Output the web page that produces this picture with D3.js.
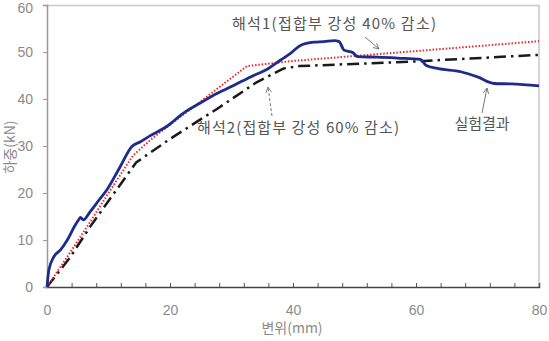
<!DOCTYPE html>
<html>
<head>
<meta charset="utf-8">
<script src="https://cdn.jsdelivr.net/npm/d3@7"></script>
<style>
  body { margin: 0; background: #fff; }
  text { font-family: "Noto Sans CJK KR", "Noto Sans", sans-serif; }
</style>
</head>
<body>
<div id="chart"></div>
<script>
// 실험결과 (blue)
var expX = [0, 0.3, 1.1, 2.2, 3.3, 4.6, 5.15, 5.45, 5.9, 7.0, 8.4, 9.8, 11.9, 13.8, 15.2, 16.8, 19.5, 22.2, 25, 27.7, 30.5, 33.1, 36, 38, 39.6, 41.2, 43.4, 45, 46.7, 47.5, 48.3, 49.7, 50.5, 53.7, 57, 60.8, 61.6, 63.5, 67.3, 70, 72.7, 75.5, 80];
var expY = [0, 3.6, 6.4, 7.9, 10, 13.2, 14.3, 14.8, 14.3, 16.0, 18.4, 20.8, 25.6, 29.9, 30.9, 32.2, 34.2, 37, 39.2, 41.2, 43.0, 44.7, 46.5, 48.3, 49.7, 51.4, 52.1, 52.2, 52.4, 52.2, 50.4, 49.9, 49, 48.9, 48.7, 48.4, 47.2, 46.5, 45.8, 44.7, 43.3, 43.2, 42.8];
// 해석1 (red dotted)
var an1X = [0, 4.3, 7, 10, 13, 14, 17, 20, 24, 28, 32.5, 40, 60, 80];
var an1Y = [0, 8.4, 13.8, 20, 26, 28, 31.5, 34.5, 38.5, 42.5, 47, 48.1, 50.2, 52.3];
// 해석2 (black dash-dot)
var an2X = [0, 3.8, 7, 9.5, 14.5, 20, 28, 34, 38.5, 41, 60, 80];
var an2Y = [0, 6.4, 12.8, 17.4, 26.5, 31.5, 38.2, 43.5, 46.5, 47, 48, 49.4];

var xTicks = [0, 20, 40, 60, 80];
var yTicks = [0, 10, 20, 30, 40, 50, 60];
var xLabel = "변위(mm)";
var yLabel = "하중(kN)";
var note1 = "해석1(접합부 강성 40% 감소)";
var note2 = "해석2(접합부 강성 60% 감소)";
var note3 = "실험결과";

var svgWidth = 549, svgHeight = 341;
var margin = { top: 5, right: 10, bottom: 54, left: 47 };
var width = svgWidth - margin.left - margin.right;
var height = svgHeight - margin.top - margin.bottom;

var svg = d3.select('#chart').append('svg')
  .attr('width', svgWidth)
  .attr('height', svgHeight);

var defs = svg.append('defs');
defs.append('marker')
  .attr('id', 'arr')
  .attr('viewBox', '0 0 10 10')
  .attr('refX', 9).attr('refY', 5)
  .attr('markerWidth', 7).attr('markerHeight', 7)
  .attr('orient', 'auto')
  .append('path')
  .attr('d', 'M1,1 L9,5 L1,9')
  .attr('fill', 'none')
  .attr('stroke', '#777')
  .attr('stroke-width', 1.3);

var g = svg.append('g')
  .attr('transform', `translate(${margin.left}, ${margin.top})`);

var x = d3.scaleLinear().domain([0, 80]).range([0, width]);
var y = d3.scaleLinear().domain([0, 60]).range([height, 0]);

// frame top/right
g.append('path')
  .attr('d', `M0,0.5 H${width} V${height}`)
  .attr('fill', 'none')
  .attr('stroke', '#c8c8c8')
  .attr('stroke-width', 1.5);

// minor x ticks every 4
var xAxis = g.append('g')
  .attr('transform', `translate(0, ${height})`)
  .call(d3.axisBottom(x).tickValues(d3.range(0, 81, 4)).tickSize(-4).tickFormat(''));
xAxis.select('.domain').attr('stroke', '#444').attr('stroke-width', 1.5);
xAxis.selectAll('.tick line').attr('stroke', '#555');

var xLab = g.append('g')
  .attr('transform', `translate(0, ${height})`)
  .call(d3.axisBottom(x).tickValues(xTicks).tickSize(0).tickPadding(18));
xLab.select('.domain').remove();
xLab.selectAll('text').attr('font-size', 14).attr('fill', '#8a8a8a')
  .style('font-family', 'Arial, "Liberation Sans", sans-serif');

var yAxis = g.append('g')
  .call(d3.axisLeft(y).tickValues(yTicks).tickSize(4).tickPadding(10));
yAxis.select('.domain').attr('stroke', '#999').attr('stroke-width', 1.5);
yAxis.selectAll('.tick line').attr('stroke', '#999');
yAxis.selectAll('text').attr('font-size', 14).attr('fill', '#8a8a8a')
  .style('font-family', 'Arial, "Liberation Sans", sans-serif');
// keep the top label inside the page
yAxis.selectAll('text').filter(d => d === 60).attr('dy', '0.5em');

var line = d3.line().x(d => x(d[0])).y(d => y(d[1]));

g.append('path')
  .datum(d3.zip(an2X, an2Y))
  .attr('d', line)
  .attr('fill', 'none')
  .attr('stroke', '#1a1a1a')
  .attr('stroke-width', 2.5)
  .attr('stroke-dasharray', '12,5,2.5,5');

g.append('path')
  .datum(d3.zip(an1X, an1Y))
  .attr('d', line)
  .attr('fill', 'none')
  .attr('stroke', '#e8262a')
  .attr('stroke-width', 2)
  .attr('stroke-dasharray', '1.5,1.8');

g.append('path')
  .datum(d3.zip(expX, expY))
  .attr('d', line.curve(d3.curveMonotoneX))
  .attr('fill', 'none')
  .attr('stroke', '#1d2b8c')
  .attr('stroke-width', 2.8)
  .attr('stroke-linejoin', 'round');

// annotations
svg.append('text').attr('x', 334).attr('y', 29).attr('text-anchor', 'middle')
  .attr('font-size', 15).attr('fill', '#555').attr('textLength', 204).text(note1);
svg.append('line').attr('x1', 365).attr('y1', 37).attr('x2', 379).attr('y2', 49)
  .attr('stroke', '#777').attr('stroke-width', 1).attr('marker-end', 'url(#arr)');

svg.append('text').attr('x', 298).attr('y', 133).attr('text-anchor', 'middle')
  .attr('font-size', 15).attr('fill', '#555').attr('textLength', 202).text(note2);
svg.append('line').attr('x1', 272).attr('y1', 116).attr('x2', 268).attr('y2', 87)
  .attr('stroke', '#777').attr('stroke-width', 1).attr('stroke-dasharray', '3,2')
  .attr('marker-end', 'url(#arr)');

svg.append('text').attr('x', 482).attr('y', 129).attr('text-anchor', 'middle')
  .attr('font-size', 15).attr('fill', '#555').text(note3);
svg.append('line').attr('x1', 482).attr('y1', 113).attr('x2', 487).attr('y2', 88)
  .attr('stroke', '#777').attr('stroke-width', 1).attr('marker-end', 'url(#arr)');

// axis titles
svg.append('text').attr('x', 292).attr('y', 333).attr('text-anchor', 'middle')
  .attr('font-size', 14).attr('fill', '#8a8a8a').text(xLabel);
svg.append('text')
  .attr('transform', 'translate(15, 147) rotate(-90)')
  .attr('text-anchor', 'middle')
  .attr('font-size', 14).attr('fill', '#8a8a8a').text(yLabel);
</script>
</body>
</html>
